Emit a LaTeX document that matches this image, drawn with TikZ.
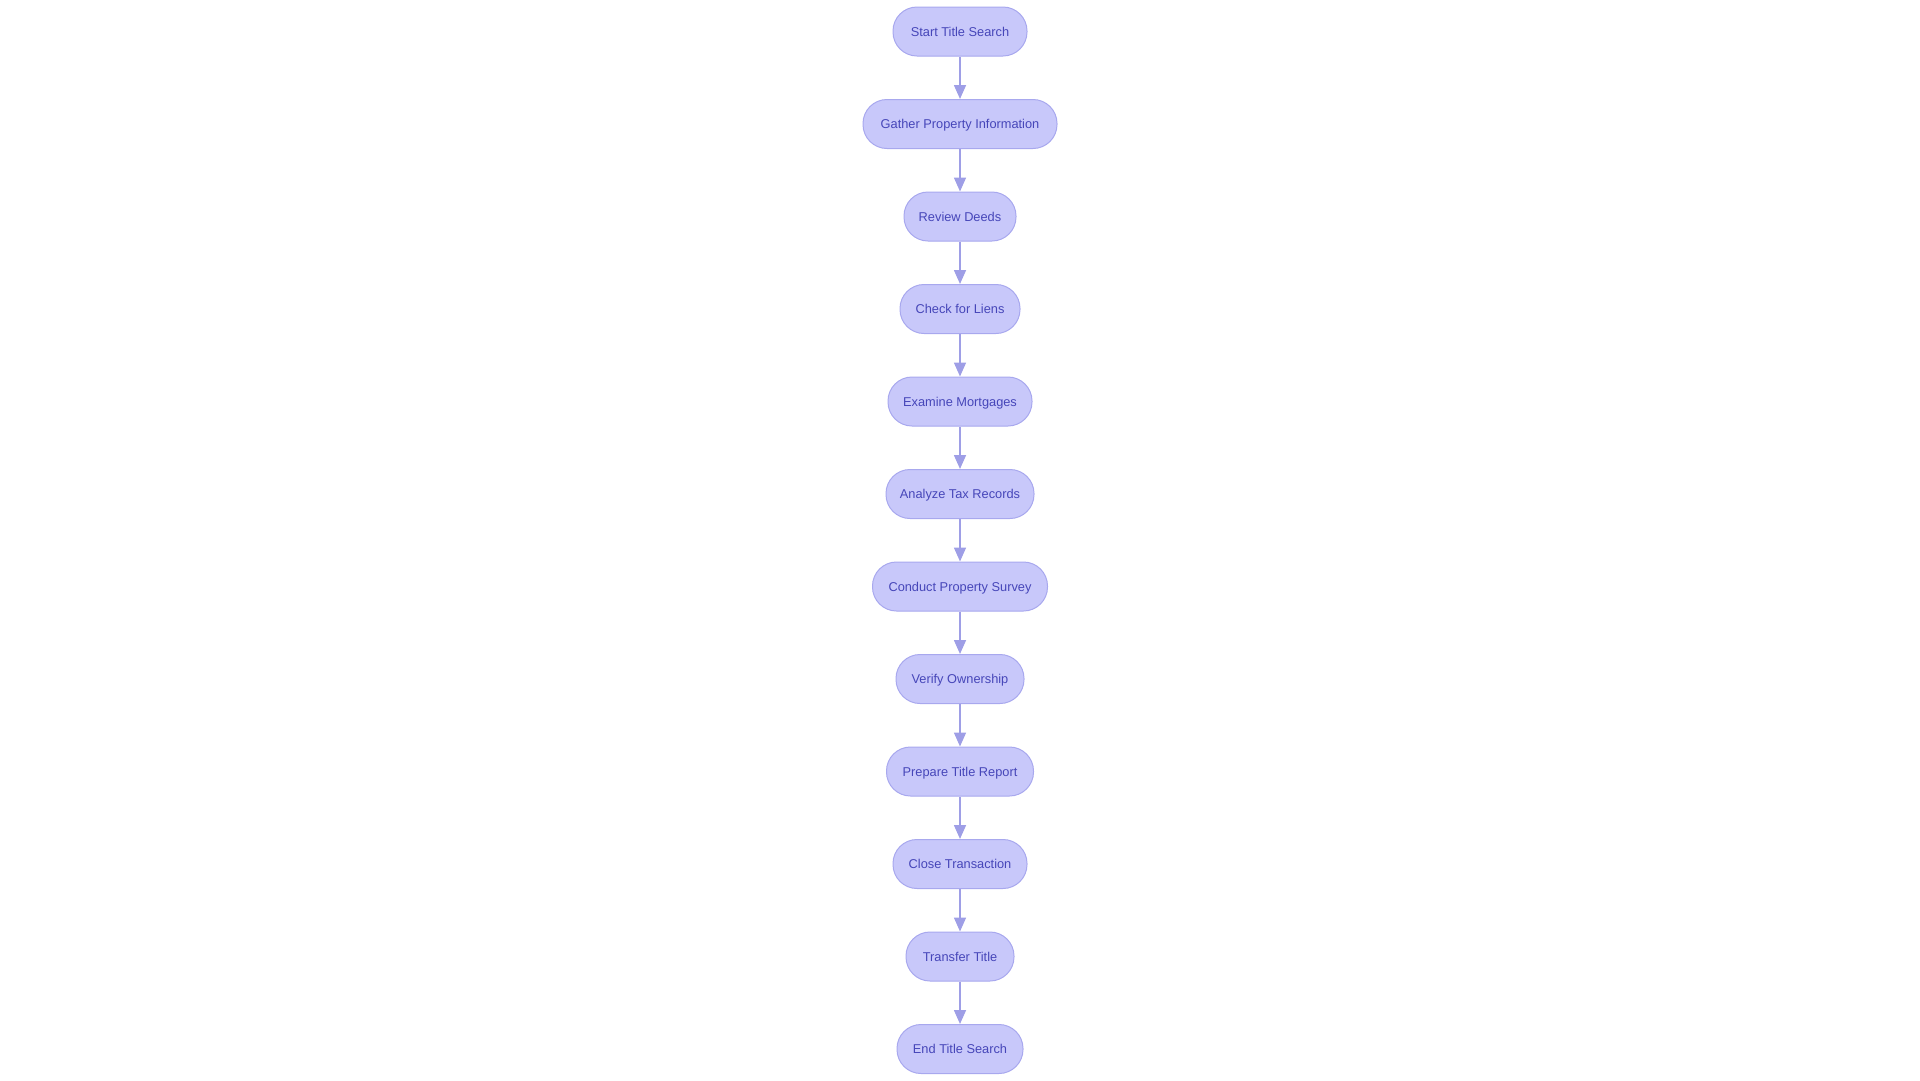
\documentclass[tikz,border=0pt]{standalone}
\usepackage{fontspec}
\setmainfont{Liberation Sans}
\usetikzlibrary{arrows.meta}
\definecolor{nodefill}{RGB}{200,200,250}
\definecolor{nodeborder}{RGB}{168,168,238}
\definecolor{nodetext}{RGB}{70,70,185}
\definecolor{edgecol}{RGB}{158,158,230}
\tikzset{
  stepbox/.style={draw=nodeborder, fill=nodefill, line width=1pt, rounded corners=24pt,
    minimum height=49pt, inner sep=0pt, text height=9.2pt, text depth=0pt,
    text=nodetext, font=\fontsize{12.8}{15}\selectfont, anchor=center},
  flow/.style={draw=edgecol, line width=1.6pt, -{Triangle[length=14pt,width=12pt]}}
}
\begin{document}
\begin{tikzpicture}[x=1pt,y=-1pt]
\useasboundingbox (0,0) rectangle (1920,1080);
\node[stepbox, minimum width=134pt] (n1) at (960,31.5) {Start Title Search};
\node[stepbox, minimum width=194pt] (n2) at (960,124) {Gather Property Information};
\node[stepbox, minimum width=112pt] (n3) at (960,216.5) {Review Deeds};
\node[stepbox, minimum width=120pt] (n4) at (960,309) {Check for Liens};
\node[stepbox, minimum width=144pt] (n5) at (960,401.5) {Examine Mortgages};
\node[stepbox, minimum width=148pt] (n6) at (960,494) {Analyze Tax Records};
\node[stepbox, minimum width=175pt] (n7) at (960,586.5) {Conduct Property Survey};
\node[stepbox, minimum width=128pt] (n8) at (960,679) {Verify Ownership};
\node[stepbox, minimum width=147pt] (n9) at (960,771.5) {Prepare Title Report};
\node[stepbox, minimum width=134pt] (n10) at (960,864) {Close Transaction};
\node[stepbox, minimum width=108pt] (n11) at (960,956.5) {Transfer Title};
\node[stepbox, minimum width=126pt] (n12) at (960,1049) {End Title Search};
\foreach \a/\b in {n1/n2,n2/n3,n3/n4,n4/n5,n5/n6,n6/n7,n7/n8,n8/n9,n9/n10,n10/n11,n11/n12}
  \draw[flow] (\a.south) -- (\b.north);
\end{tikzpicture}
\end{document}
